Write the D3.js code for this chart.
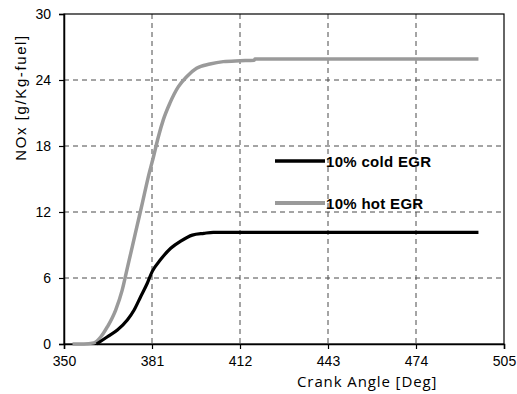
<!DOCTYPE html>
<html>
<head>
<meta charset="utf-8">
<script src="https://cdnjs.cloudflare.com/ajax/libs/d3/7.8.5/d3.min.js"></script>
<style>
html,body{margin:0;padding:0;background:#fff;}
svg{display:block;}
</style>
</head>
<body>
<svg id="chart" width="517" height="394"></svg>
<script>
// ---- data ----
const xTicks = [350, 381, 412, 443, 474, 505];
const yTicks = [0, 6, 12, 18, 24, 30];
const seriesNames = ["10% cold EGR", "10% hot EGR"];
const seriesColors = ["#000000", "#9a9a9a"];

const coldAngle = [361.5, 365.3, 368.8, 372.3, 374.7, 377, 379.3, 381.1, 384.1, 387.6, 391.1, 395.2, 399.3, 402.6, 496];
const coldNOx   = [0, 0.66, 1.27, 2.18, 3.09, 4.3, 5.5, 6.6, 7.7, 8.7, 9.35, 9.9, 10.06, 10.15, 10.15];

const hotAngle = [353, 357, 360.5, 363, 365.3, 368.2, 370.5, 372.3, 374.1, 375.8, 377.6, 379.7, 381.5, 383.2, 385, 387.3, 390.3, 393.2, 396.7, 401.4, 406.1, 412, 417, 417.3, 496];
const hotNOx   = [0, 0, 0.1, 0.66, 1.57, 3.09, 4.9, 6.9, 8.9, 10.8, 12.8, 15.2, 17.0, 18.8, 20.4, 21.9, 23.4, 24.3, 25.06, 25.45, 25.67, 25.75, 25.8, 25.9, 25.9];

// ---- layout ----
const svg = d3.select("#chart");
const L = 64, R = 504, T = 14, B = 344;
const x = d3.scaleLinear().domain([350, 505]).range([L, R]);
const y = d3.scaleLinear().domain([0, 30]).range([B, T]);

// grid
const g = svg.append("g");
g.selectAll(".vg").data(xTicks.filter(t => t > 350 && t < 505)).enter().append("line")
  .attr("x1", d => x(d)).attr("x2", d => x(d)).attr("y1", T).attr("y2", B)
  .attr("stroke", "#4a4a4a").attr("stroke-width", 1).attr("stroke-dasharray", "5,4");
g.selectAll(".hg").data(yTicks.filter(t => t > 0 && t < 30)).enter().append("line")
  .attr("x1", L).attr("x2", R).attr("y1", d => y(d)).attr("y2", d => y(d))
  .attr("stroke", "#4a4a4a").attr("stroke-width", 1).attr("stroke-dasharray", "5,4");

// frame
svg.append("rect").attr("x", L).attr("y", T).attr("width", R - L).attr("height", B - T)
  .attr("fill", "none").attr("stroke", "#000").attr("stroke-width", 1.2);

// axes
const xAxis = d3.axisBottom(x).tickValues(xTicks).tickSize(5).tickPadding(7).tickFormat(d3.format("d"));
const xg = svg.append("g").attr("transform", `translate(0,${B})`).call(xAxis);
const yAxis = d3.axisLeft(y).tickValues(yTicks).tickSize(5).tickPadding(8).tickFormat(d3.format("d"));
const yg = svg.append("g").attr("transform", `translate(${L},0)`).call(yAxis);
[xg, yg].forEach(a => {
  a.select(".domain").attr("stroke", "#000").attr("stroke-width", 1.5);
  a.selectAll(".tick line").attr("stroke", "#000").attr("stroke-width", 1.2);
  a.selectAll(".tick text").attr("font-family", "Arial, 'Liberation Sans', sans-serif")
    .attr("font-size", 14).attr("fill", "#000");
});
yg.selectAll(".tick text").attr("dy", "0.35em");

// lines
const line = d3.line().curve(d3.curveMonotoneX).x(d => x(d[0])).y(d => y(d[1]));
const cold = coldAngle.map((a, i) => [a, coldNOx[i]]);
const hot = hotAngle.map((a, i) => [a, hotNOx[i]]);
svg.append("path").datum(hot).attr("d", line).attr("fill", "none")
  .attr("stroke", seriesColors[1]).attr("stroke-width", 3.5).attr("stroke-linejoin", "round");
svg.append("path").datum(cold).attr("d", line).attr("fill", "none")
  .attr("stroke", seriesColors[0]).attr("stroke-width", 3.2).attr("stroke-linejoin", "round");

// legend
const legY = [161, 203];
seriesNames.forEach((name, i) => {
  svg.append("line").attr("x1", 275).attr("x2", 325).attr("y1", legY[i]).attr("y2", legY[i])
    .attr("stroke", seriesColors[i]).attr("stroke-width", i === 0 ? 3.5 : 4);
  svg.append("text").attr("x", 326).attr("y", legY[i] + 5.5)
    .attr("font-family", "Arial, 'Liberation Sans', sans-serif").attr("font-weight", "bold")
    .attr("font-size", 15).attr("letter-spacing", 0.3).attr("fill", "#000").text(name);
});

// axis titles
svg.append("text").attr("transform", "translate(26,97.5) rotate(-90)")
  .attr("text-anchor", "middle").attr("font-family", "Arial, 'Liberation Sans', sans-serif")
  .attr("font-size", 15).attr("letter-spacing", 1.6).attr("fill", "#000").text("NOx [g/Kg-fuel]");
svg.append("text").attr("x", 297).attr("y", 387)
  .attr("font-family", "'Open Sans', sans-serif").attr("font-size", 15)
  .attr("letter-spacing", 0.9).attr("fill", "#000").text("Crank Angle [Deg]");
</script>
</body>
</html>
